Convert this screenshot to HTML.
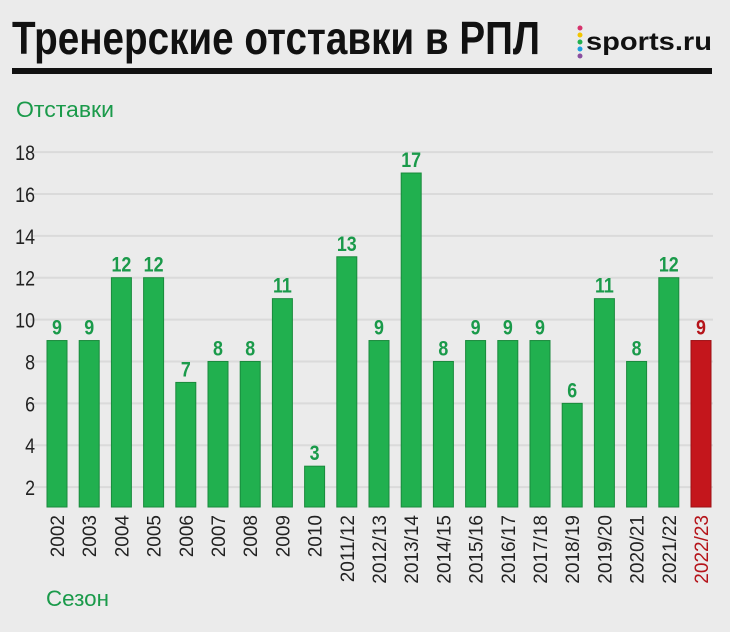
<!DOCTYPE html>
<html><head><meta charset="utf-8">
<style>
html,body{margin:0;padding:0;background:#ebebeb;}
svg{display:block;}
text{font-family:"Liberation Sans","DejaVu Sans",sans-serif;}
</style></head>
<body>
<svg id="chart" width="730" height="632" viewBox="0 0 730 632">
<rect x="0" y="0" width="730" height="632" fill="#ebebeb"/>
<text x="12" y="54" font-size="46" font-weight="bold" fill="#111" textLength="528" lengthAdjust="spacingAndGlyphs">Тренерские отставки в РПЛ</text>
<g>
<circle cx="580" cy="28" r="2.5" fill="#d6336c"/>
<circle cx="580" cy="35" r="2.5" fill="#f2c500"/>
<circle cx="580" cy="42" r="2.5" fill="#21b04f"/>
<circle cx="580" cy="49" r="2.5" fill="#1ca0e0"/>
<circle cx="580" cy="56" r="2.5" fill="#8a4fa0"/>
<text x="586" y="50" font-size="25" font-weight="bold" fill="#111" textLength="126" lengthAdjust="spacingAndGlyphs">sports.ru</text>
</g>
<rect x="12" y="68" width="700" height="6" fill="#111"/>
<text x="16" y="117" font-size="22" fill="#1a9a4a" textLength="98" lengthAdjust="spacingAndGlyphs">Отставки</text>
<text x="46" y="606" font-size="22" fill="#1a9a4a" textLength="63" lengthAdjust="spacingAndGlyphs">Сезон</text>
<g id="grid"></g>
<g id="bars"></g>
</svg>
<script>
const categories = ["2002","2003","2004","2005","2006","2007","2008","2009","2010","2011/12","2012/13","2013/14","2014/15","2015/16","2016/17","2017/18","2018/19","2019/20","2020/21","2021/22","2022/23"];
const values = [9,9,12,12,7,8,8,11,3,13,9,17,8,9,9,9,6,11,8,12,9];
const tickValues = [2,4,6,8,10,12,14,16,18];
const tickLabels = ["2","4","6","8","10","12","14","16","18"];
const highlightIndex = 20;

const NS = "http://www.w3.org/2000/svg";
function y(v){ return 529 - 20.94 * v; }
function x(i){ return 47 + i * 32.2; }
const barW = 20, baseY = 507;

const grid = document.getElementById('grid');
tickValues.forEach((t, k) => {
  const l = document.createElementNS(NS, 'line');
  l.setAttribute('x1', 30); l.setAttribute('x2', 713);
  l.setAttribute('y1', y(t)); l.setAttribute('y2', y(t));
  l.setAttribute('stroke', '#dadada'); l.setAttribute('stroke-width', 2);
  
  
  grid.appendChild(l);
  const tx = document.createElementNS(NS, 'text');
  tx.setAttribute('x', 35); tx.setAttribute('y', y(t) + 8);
  tx.setAttribute('text-anchor', 'end');
  tx.setAttribute('font-size', '21'); tx.setAttribute('fill', '#222');
  tx.setAttribute('transform', `translate(35,0) scale(0.85,1) translate(-35,0)`);
  tx.textContent = tickLabels[k];
  
  
  grid.appendChild(tx);
});

const bars = document.getElementById('bars');
values.forEach((v, i) => {
  const hl = i === highlightIndex;
  const r = document.createElementNS(NS, 'rect');
  r.setAttribute('x', x(i)); r.setAttribute('y', y(v));
  r.setAttribute('width', barW); r.setAttribute('height', baseY - y(v));
  r.setAttribute('fill', hl ? '#c4161c' : '#21b04f');
  r.setAttribute('stroke', hl ? '#9e1015' : '#198a3c'); r.setAttribute('stroke-width', 1);
  
  
  bars.appendChild(r);
  const vl = document.createElementNS(NS, 'text');
  const cx = x(i) + barW / 2;
  vl.setAttribute('x', cx); vl.setAttribute('y', y(v) - 6);
  vl.setAttribute('text-anchor', 'middle');
  vl.setAttribute('font-size', '21'); vl.setAttribute('font-weight', 'bold');
  vl.setAttribute('fill', hl ? '#b5141a' : '#1a9a4a');
  vl.setAttribute('transform', `translate(${cx},0) scale(0.85,1) translate(${-cx},0)`);
  vl.textContent = v;
  
  
  bars.appendChild(vl);
  const cl = document.createElementNS(NS, 'text');
  cl.setAttribute('transform', `translate(${cx + 7},515) rotate(-90)`);
  cl.setAttribute('text-anchor', 'end');
  cl.setAttribute('font-size', '19');
  cl.setAttribute('fill', hl ? '#b5141a' : '#222');
  cl.textContent = categories[i];
  
  
  bars.appendChild(cl);
});
</script>
</body></html>
